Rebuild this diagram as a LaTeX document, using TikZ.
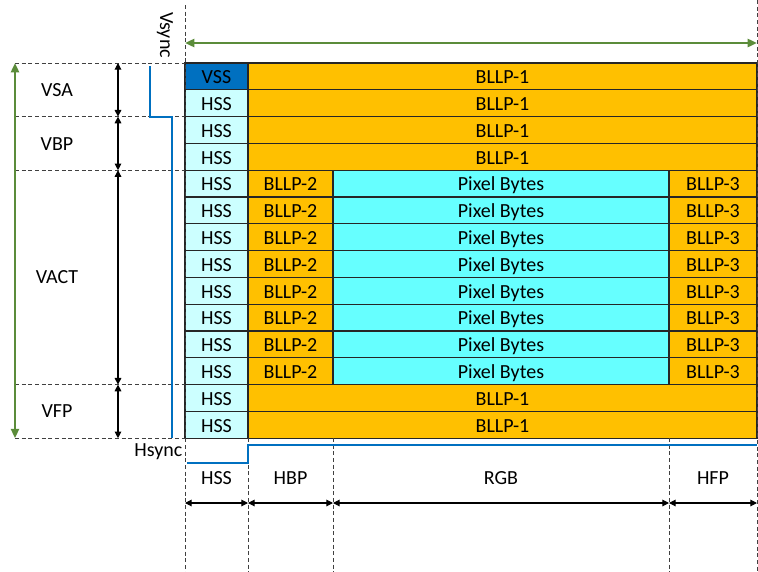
\documentclass[tikz,border=0pt]{standalone}
\usepackage{fontspec}
\setmainfont{Carlito}
\usetikzlibrary{arrows.meta}
\definecolor{bllp}{HTML}{FFC000}
\definecolor{hssfill}{HTML}{CCFFFF}
\definecolor{pixfill}{HTML}{66FFFF}
\definecolor{vssfill}{HTML}{0070C0}
\definecolor{syncline}{HTML}{0070C0}
\definecolor{spangreen}{HTML}{5B8C3A}
\tikzset{
  cell/.style={draw=black!85, line width=0.9pt, anchor=north west, inner sep=0pt, outer sep=0pt, minimum height=20.1pt, text height=11pt, text depth=0pt, font=\fontsize{15}{17}\selectfont},
  hss/.style={cell, fill=hssfill, minimum width=47.25pt},
  vss/.style={hss, fill=vssfill},
  bllpa/.style={cell, fill=bllp, minimum width=381.75pt},
  bllpb/.style={cell, fill=bllp, minimum width=63.75pt},
  pixel/.style={cell, fill=pixfill, minimum width=252pt},
  bllpc/.style={cell, fill=bllp, minimum width=66pt},
  lbl/.style={font=\fontsize{15}{17}\selectfont, inner sep=1pt},
  guide/.style={densely dashed, black!75, line width=0.6pt},
  dim/.style={{Triangle[length=5pt,width=5pt]}-{Triangle[length=5pt,width=5pt]}, line width=0.8pt, black},
  span/.style={{Triangle[length=7pt,width=6pt]}-{Triangle[length=7pt,width=6pt]}, line width=1.8pt, spangreen},
  sync/.style={syncline, line width=1.6pt}}

\begin{document}
\begin{tikzpicture}[x=0.75pt, y=-0.75pt]
\useasboundingbox (0,0) rectangle (758,572);
% grid of packets
\node[vss] (c1) at (185,63) {VSS};
\node[bllpa] (b1) at (248,63) {BLLP-1};
\foreach \i in {2,...,14} \node[hss] (c\i) at (185,{63+(\i-1)*26.8}) {HSS};
\foreach \i in {2,3,4,13,14} \node[bllpa] (b\i) at (248,{63+(\i-1)*26.8}) {BLLP-1};
\foreach \i in {5,...,12} {
  \node[bllpb] (l\i) at (248,{63+(\i-1)*26.8}) {BLLP-2};
  \node[pixel] (p\i) at (333,{63+(\i-1)*26.8}) {Pixel Bytes};
  \node[bllpc] (r\i) at (669,{63+(\i-1)*26.8}) {BLLP-3};
}
% guides
\draw[guide] (185,5) -- (185,572);
\draw[guide] (757,0) -- (757,572);
\foreach \x in {248,333,669} \draw[guide] (\x,438) -- (\x,572);
\foreach \y in {63,116.6,170.2,384.6,438.2} \draw[guide] (15,\y) -- (185,\y);
% vertical timing
\coordinate (d0) at (118,63);
\coordinate (d1) at (118,116.6);
\coordinate (d2) at (118,170.2);
\coordinate (d3) at (118,384.6);
\coordinate (d4) at (118,438.2);
\draw[dim] (d0) -- (d1);
\draw[dim] (d1) -- (d2);
\draw[dim] (d2) -- (d3);
\draw[dim] (d3) -- (d4);
\node[lbl] (vsa) at (57,90) {VSA};
\node[lbl] (vbp) at (57,144) {VBP};
\node[lbl] (vact) at (57,277) {VACT};
\node[lbl] (vfp) at (57,411) {VFP};
\coordinate (gt) at (15,63);
\coordinate (gb) at (15,438.2);
\draw[span] (gt) -- (gb);
\node[lbl, rotate=-90] (vsync) at (165,35) {Vsync};
\draw[sync] (150,66) -- (150,116.6) -- (172,116.6) -- (172,438.2);
% horizontal timing
\coordinate (gl) at (185,43);
\coordinate (gr) at (757,43);
\draw[span] (gl) -- (gr);
\node[lbl, anchor=east] (hsync) at (184,452) {Hsync};
\draw[sync] (187,463) -- (248,463) -- (248,445) -- (757,445);
\node[lbl] (hsslbl) at (216.5,478) {HSS};
\node[lbl] (hbp) at (290.5,478) {HBP};
\node[lbl] (rgb) at (501,478) {RGB};
\node[lbl] (hfp) at (713,478) {HFP};
\coordinate (h0) at (185,503);
\coordinate (h1) at (248,503);
\coordinate (h2) at (333,503);
\coordinate (h3) at (669,503);
\coordinate (h4) at (757,503);
\draw[dim] (h0) -- (h1);
\draw[dim] (h1) -- (h2);
\draw[dim] (h2) -- (h3);
\draw[dim] (h3) -- (h4);
\end{tikzpicture}
\end{document}
